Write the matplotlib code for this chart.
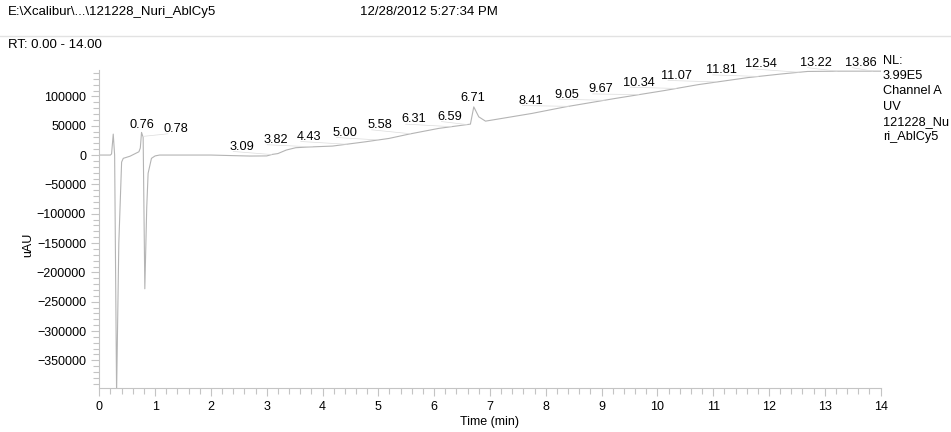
import numpy as np
import matplotlib.pyplot as plt
from matplotlib.ticker import MultipleLocator

plt.rcParams['font.family'] = ['Liberation Sans', 'DejaVu Sans']

# chromatogram trace (time in min, signal in uAU)
t = [0.00, 0.20, 0.22, 0.25, 0.275, 0.31, 0.35, 0.40, 0.43, 0.55, 0.71, 0.735,
     0.757, 0.786, 0.816, 0.85, 0.875, 0.935, 1.00, 1.08, 1.5, 2.0, 2.4, 2.7,
     3.0, 3.1, 3.2, 3.35, 3.52, 3.7, 4.18, 4.77, 5.19, 5.55, 6.08, 6.65, 6.71,
     6.80, 6.92, 7.75, 8.35, 9.24, 10.13, 10.73, 11.62, 12.2, 12.69, 13.3, 14.0]
signal = [0, 0, 2000, 35700, 0, -405000, -150000, -12000, -5600, -2000, 5600, 12000,
          38600, 30000, -228000, -90000, -31000, -5600, -1500, 0, 0, 0, -1000, -1700,
          -1500, 1100, 2500, 8500, 12500, 13500, 15300, 22600, 28300, 35700, 45400, 52700, 82100,
          65100, 57800, 70900, 82100, 96400, 110000, 120000, 132000, 138000, 142500, 143000, 143000]

# peak labels: retention time and where the label sits
peak_rt = [0.76, 0.78, 3.09, 3.82, 4.43, 5.00, 5.58, 6.31, 6.59, 6.71,
           8.41, 9.05, 9.67, 10.34, 11.07, 11.81, 12.54, 13.22, 13.86]
label_x = [0.757, 1.38, 2.55, 3.16, 3.76, 4.40, 5.03, 5.64, 6.28, 6.69,
           7.73, 8.38, 8.99, 9.66, 10.34, 11.14, 11.86, 12.84, 13.64]
label_y = [51000, 44200, 14100, 25500, 31100, 37900, 51000, 60700, 65100, 96400,
           92300, 103200, 112200, 123600, 135200, 144600, 154800, 157000, 157000]

side_text = ["NL:", "3.99E5", "Channel A", "UV", "121228_Nu", "ri_AblCy5"]

line_col = '#b4b4b4'
axis_col = '#c4c4c4'

fig = plt.figure(figsize=(9.51, 4.32), dpi=100)
ax = fig.add_axes([0.1044, 0.102, 0.8216, 0.736])

ax.plot(t, signal, color=line_col, lw=0.8)

# faint leader lines + labels
for rt, lx, ly in zip(peak_rt, label_x, label_y):
    ty = np.interp(rt, t, signal)
    if abs(lx - rt) > 0.05:
        ax.plot([lx - 0.15, rt], [ly - 8000, ty], color='#dcdcdc', lw=0.5, clip_on=False)
    ax.text(lx, ly, f"{rt:.2f}", ha='center', va='center', fontsize=9.2)

ax.set_xlim(0, 14)
ax.set_ylim(-397000, 145000)
ax.xaxis.set_major_locator(MultipleLocator(1))
ax.xaxis.set_minor_locator(MultipleLocator(0.2))
ax.yaxis.set_minor_locator(MultipleLocator(10000))
ax.set_yticks(np.arange(-350000, 100001, 50000))
ax.tick_params(which='both', colors=axis_col, labelcolor='black', labelsize=9, width=0.8)
ax.tick_params(which='major', length=6)
ax.tick_params(which='minor', length=4)
for s in ['top', 'right']:
    ax.spines[s].set_visible(False)
for s in ['left', 'bottom']:
    ax.spines[s].set_color(axis_col)
    ax.spines[s].set_linewidth(0.8)

ax.set_xlabel("Time (min)", fontsize=9, labelpad=2)
ax.set_ylabel("uAU", fontsize=9)
ax.yaxis.set_label_coords(-0.083, 0.45)

# right-hand info block
for i, s in enumerate(side_text):
    fig.text(883 / 951, 1 - (61 + i * 15.2) / 432, s, ha='left', va='center', fontsize=9.2)

# header
fig.text(8 / 951, 1 - 12 / 432, "E:\\Xcalibur\\...\\121228_Nuri_AblCy5", ha='left', va='center', fontsize=9.5)
fig.text(360 / 951, 1 - 12 / 432, "12/28/2012 5:27:34 PM", ha='left', va='center', fontsize=9.5)
fig.add_artist(plt.Line2D([0, 1], [1 - 36 / 432, 1 - 36 / 432], transform=fig.transFigure,
                          color='#e2e2e2', lw=1))
fig.text(8 / 951, 1 - 45 / 432, "RT: 0.00 - 14.00", ha='left', va='center', fontsize=9.5)

fig.savefig("out.png", dpi=100)
